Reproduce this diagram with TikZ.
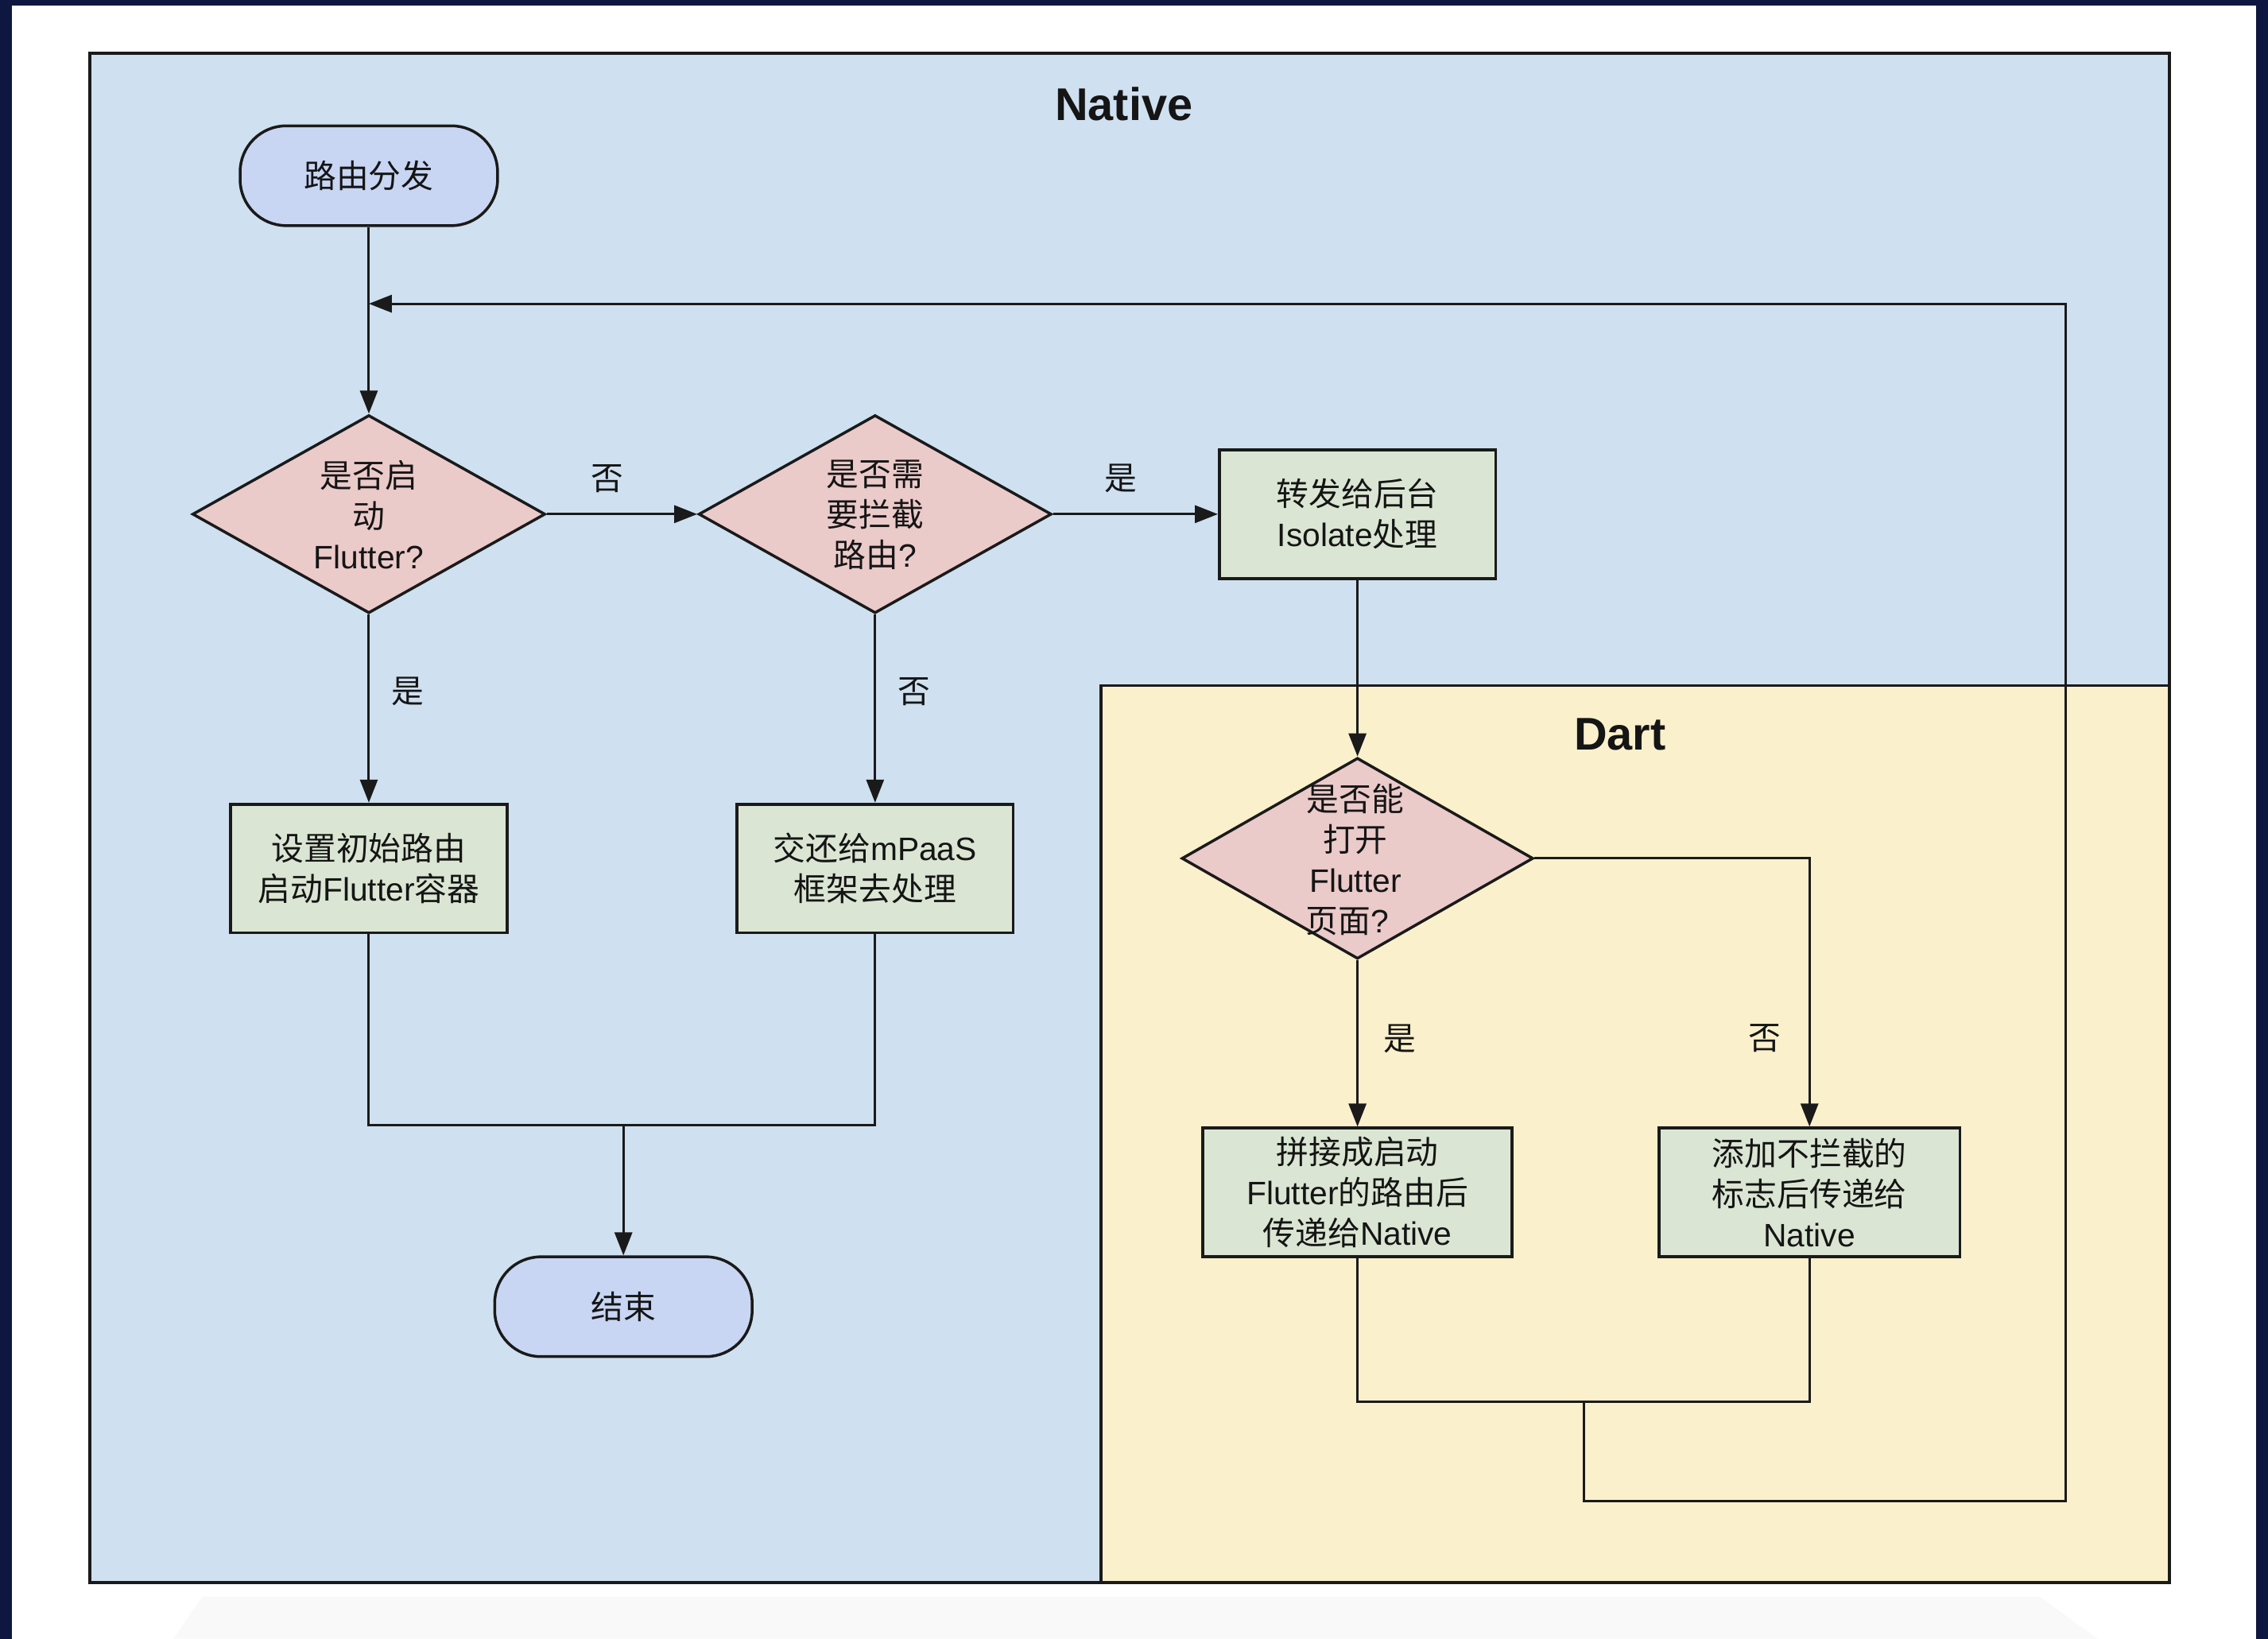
\documentclass[tikz,border=0pt]{standalone}
\usepackage{fontspec}
\setmainfont{Liberation Sans}
\newfontfamily\cjk{Noto Sans CJK SC}
\usetikzlibrary{shapes.geometric,arrows.meta}
\newcommand\spx{0.018195cm}
\definecolor{navyc}{HTML}{0E1740}
\definecolor{nativec}{HTML}{CFE0F0}
\definecolor{dartc}{HTML}{FAF0CC}
\definecolor{termc}{HTML}{C8D6F3}
\definecolor{decc}{HTML}{EBCACA}
\definecolor{procc}{HTML}{DAE6D3}
\definecolor{linec}{HTML}{1A1A1A}
\definecolor{textc}{HTML}{151515}
\tikzset{
  txt/.style={text=textc, font=\fontsize{11.6}{14.5}\selectfont, align=center, inner sep=0pt},
  title/.style={text=textc, font=\fontsize{16.4}{20}\selectfont\bfseries, inner sep=0pt},
  proc/.style={txt, draw=linec, line width=1.05pt, fill=procc, minimum width={191*\spx}, minimum height={89*\spx}},
  term/.style={txt, draw=linec, line width=1pt, fill=termc, rounded corners=0.58cm, minimum width={178*\spx}, minimum height={69*\spx}},
  deci/.style={diamond, draw=linec, line width=1pt, fill=decc, minimum width={244*\spx}, minimum height={137*\spx}, inner sep=0pt},
  region/.style={draw=linec, line width=1.1pt},
  conn/.style={draw=linec, line width=0.85pt},
  arr/.style={conn, -{Triangle[length=0.29cm,width=0.22cm]}},
}
\begin{document}
\begin{tikzpicture}[x=0.018195cm, y=-0.018195cm]
\useasboundingbox (0,0) rectangle (1568,1133);
\fill[navyc] (0,0) rectangle (1568,1133);
\fill[white] (8,4) rectangle (1560,1133);
\fill[gray!5] (120,1133) -- (140,1104) -- (1410,1104) -- (1450,1133) -- cycle;
% regions
\draw[region, fill=nativec] (62,37) rectangle (1500,1094);
\draw[region, fill=dartc] (761,474) rectangle (1500,1094);
\node[title] (tnative) at (777,72) {Native};
\node[title] (tdart) at (1120,508) {Dart};
% nodes
\node[term] (start) at (255,121.5) {{\cjk 路由分发}};
\node[term] (end) at (431,903.5) {{\cjk 结束}};
\node[deci] (d1) at (255,355.5) {};
\node[txt] (d1t) at (255,356) {{\cjk 是否启}\\{\cjk 动}\\Flutter?};
\node[deci] (d2) at (605,355.5) {};
\node[txt] (d2t) at (605,356) {{\cjk 是否需}\\{\cjk 要拦截}\\{\cjk 路由}?};
\node[proc] (iso) at (938.5,355.5) {{\cjk 转发给后台}\\Isolate{\cjk 处理}};
\node[proc] (set) at (255,600.5) {{\cjk 设置初始路由}\\{\cjk 启动}Flutter{\cjk 容器}};
\node[proc] (mpaas) at (605,600.5) {{\cjk 交还给}mPaaS\\{\cjk 框架去处理}};
\node[deci, minimum width={243*\spx}, minimum height={139*\spx}] (d3) at (938.5,593.5) {};
\node[txt] (d3t) at (937,594.5) {{\cjk 是否能}\\{\cjk 打开}\\Flutter\\{\cjk 页面}?\hspace*{0.2cm}};
\node[proc, minimum width={214*\spx}] (join) at (938.5,824.5) {{\cjk 拼接成启动}\\Flutter{\cjk 的路由后}\\{\cjk 传递给}Native};
\node[proc, minimum width={208*\spx}] (noint) at (1251,824.5) {{\cjk 添加不拦截的}\\{\cjk 标志后传递给}\\Native};
% labels
\node[txt] (l1) at (420,331) {{\cjk 否}};
\node[txt] (l2) at (775,331) {{\cjk 是}};
\node[txt] (l3) at (282,478) {{\cjk 是}};
\node[txt] (l4) at (632,478) {{\cjk 否}};
\node[txt] (l5) at (968,718) {{\cjk 是}};
\node[txt] (l6) at (1220,718) {{\cjk 否}};
% helper coordinates
\coordinate (j1) at (431,778);
\coordinate (j2) at (1095,969);
\coordinate (lp1) at (1095,1038);
\coordinate (lp2) at (1428,1038);
\coordinate (lp3) at (1428,210);
\coordinate (m) at (255,210);
% connectors
\draw[arr] (start) -- (d1);
\draw[arr] (j2) -- (lp1) -- (lp2) -- (lp3) -- (m);
\draw[arr] (d1) -- (d2);
\draw[arr] (d2) -- (iso);
\draw[arr] (d1) -- (set);
\draw[arr] (d2) -- (mpaas);
\draw[conn] (set.south) |- (j1) -| (mpaas.south);
\draw[arr] (j1) -- (end);
\draw[arr] (iso) -- (d3);
\draw[arr] (d3) -- (join);
\draw[arr] (d3.east) -| (noint.north);
\draw[conn] (join.south) |- (j2) -| (noint.south);
\end{tikzpicture}
\end{document}
